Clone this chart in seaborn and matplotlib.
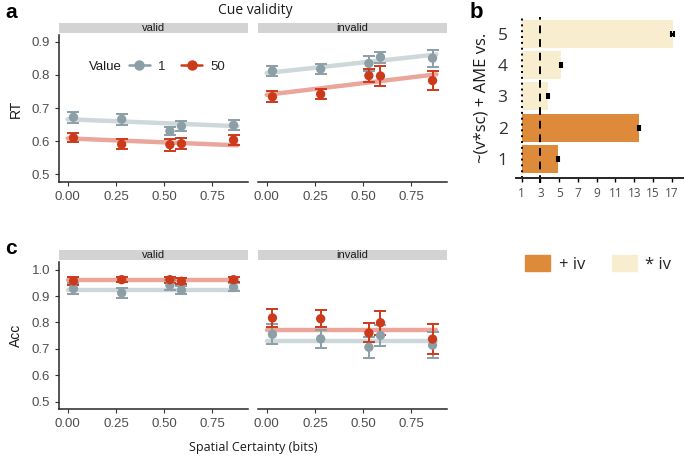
import numpy as np
import pandas as pd
import matplotlib
matplotlib.use("Agg")
import matplotlib.pyplot as plt
import seaborn as sns
from matplotlib.lines import Line2D
from matplotlib.patches import Patch, Rectangle

# spatial certainty levels (bits)
sc_bits = [0.03, 0.28, 0.53, 0.59, 0.86]
fit_x = [0.0, 0.88]

# RT means and errors
rt_valid_v1 = [0.672, 0.666, 0.630, 0.645, 0.648]
rt_valid_v1_se = [0.017, 0.017, 0.011, 0.016, 0.015]
rt_valid_v50 = [0.610, 0.590, 0.589, 0.592, 0.603]
rt_valid_v50_se = [0.013, 0.015, 0.018, 0.017, 0.015]
rt_invalid_v1 = [0.812, 0.818, 0.835, 0.854, 0.851]
rt_invalid_v1_se = [0.016, 0.016, 0.022, 0.017, 0.026]
rt_invalid_v50 = [0.734, 0.742, 0.798, 0.797, 0.783]
rt_invalid_v50_se = [0.016, 0.015, 0.019, 0.031, 0.030]

# model fit lines for RT (values at fit_x)
rt_fit_valid_v1 = [0.666, 0.645]
rt_fit_valid_v50 = [0.608, 0.587]
rt_fit_invalid_v1 = [0.806, 0.862]
rt_fit_invalid_v50 = [0.740, 0.802]

# Accuracy means and errors
acc_valid_v1 = [0.928, 0.912, 0.941, 0.922, 0.934]
acc_valid_v1_se = [0.022, 0.019, 0.018, 0.015, 0.015]
acc_valid_v50 = [0.957, 0.962, 0.962, 0.956, 0.962]
acc_valid_v50_se = [0.014, 0.009, 0.011, 0.012, 0.010]
acc_invalid_v1 = [0.755, 0.738, 0.706, 0.751, 0.714]
acc_invalid_v1_se = [0.038, 0.034, 0.039, 0.040, 0.050]
acc_invalid_v50 = [0.817, 0.814, 0.760, 0.799, 0.737]
acc_invalid_v50_se = [0.033, 0.033, 0.036, 0.045, 0.057]

acc_fit_valid_v1 = [0.924, 0.924]
acc_fit_valid_v50 = [0.960, 0.960]
acc_fit_invalid_v1 = [0.729, 0.729]
acc_fit_invalid_v50 = [0.771, 0.771]

# panel b: model comparison
model_rank = [1, 2, 3, 4, 5]
model_ratio = [4.85, 13.5, 3.8, 5.2, 17.1]
model_ratio_err = [0.1, 0.12, 0.08, 0.1, 0.15]
model_type = ["+ iv", "+ iv", "* iv", "* iv", "* iv"]

value_labels = ["1", "50"]
pt_colors = {"1": "#8C9FA6", "50": "#CC3A1C"}
line_colors = {"1": "#C9D4D7", "50": "#E99C90"}
bar_colors = {"+ iv": "#DE8A3B", "* iv": "#F8EDCF"}

sns.set_theme(style="ticks")
plt.rcParams["font.family"] = ["Liberation Sans", "DejaVu Sans"]

W, H = 685, 458
fig = plt.figure(figsize=(W / 100, H / 100), dpi=100)


def px_axes(left, top, right, bottom):
    return fig.add_axes([left / W, 1 - bottom / H, (right - left) / W, (bottom - top) / H])


def add_strip(ax, label):
    ax.add_patch(Rectangle((0, 1.012), 1, 0.068, transform=ax.transAxes,
                           clip_on=False, facecolor="#D3D3D3", edgecolor="none"))
    ax.text(0.5, 1.046, label, transform=ax.transAxes, ha="center", va="center",
            fontsize=8, color="#1A1A1A")


def draw_facet(ax, means, ses, fits, label, ylim, yticks, show_y, ylabel):
    for v in value_labels:
        fit_df = pd.DataFrame({"x": fit_x, "y": fits[v]})
        sns.lineplot(data=fit_df, x="x", y="y", ax=ax, color=line_colors[v],
                     lw=3.2, alpha=0.9, zorder=1)
    for v in value_labels:
        ax.errorbar(sc_bits, means[v], yerr=ses[v], fmt="none", ecolor=pt_colors[v],
                    elinewidth=1.4, capsize=4, capthick=1.4, zorder=2)
        pt_df = pd.DataFrame({"x": sc_bits, "y": means[v]})
        sns.scatterplot(data=pt_df, x="x", y="y", ax=ax, color=pt_colors[v], s=45,
                        edgecolor="none", zorder=3)
    ax.set_xlim(-0.045, 0.935)
    ax.set_ylim(*ylim)
    ax.set_xticks([0, 0.25, 0.5, 0.75])
    ax.set_xticklabels(["0.00", "0.25", "0.50", "0.75"])
    ax.set_yticks(yticks)
    ax.tick_params(labelsize=9.5, colors="#333333", length=3, width=0.8, labelcolor="#4D4D4D")
    ax.set_xlabel("")
    sns.despine(ax=ax)
    ax.spines["bottom"].set_linewidth(1.1)
    ax.spines["left"].set_linewidth(1.1)
    if show_y:
        ax.set_ylabel(ylabel, fontsize=10, color="#1A1A1A", labelpad=6)
        ax.set_yticklabels([f"{t:.1f}" for t in yticks])
    else:
        ax.set_ylabel("")
        ax.spines["left"].set_visible(False)
        ax.tick_params(axis="y", left=False, labelleft=False)
    add_strip(ax, label)


# panel a: RT
ax_a1 = px_axes(59, 35, 248, 182)
ax_a2 = px_axes(258, 35, 447, 182)
rt_ylim = (0.476, 0.921)
rt_ticks = [0.5, 0.6, 0.7, 0.8, 0.9]
draw_facet(ax_a1, {"1": rt_valid_v1, "50": rt_valid_v50},
           {"1": rt_valid_v1_se, "50": rt_valid_v50_se},
           {"1": rt_fit_valid_v1, "50": rt_fit_valid_v50},
           "valid", rt_ylim, rt_ticks, True, "RT")
draw_facet(ax_a2, {"1": rt_invalid_v1, "50": rt_invalid_v50},
           {"1": rt_invalid_v1_se, "50": rt_invalid_v50_se},
           {"1": rt_fit_invalid_v1, "50": rt_fit_invalid_v50},
           "invalid", rt_ylim, rt_ticks, False, "")

# Value legend inside the valid RT panel
ax_a1.text(0.16, 0.785, "Value", transform=ax_a1.transAxes, ha="left", va="center",
           fontsize=9.5, color="#1A1A1A")
handles = [Line2D([], [], color=pt_colors[v], marker="o", markersize=6.5, lw=1.8)
           for v in value_labels]
ax_a1.legend(handles, value_labels, loc="center left", bbox_to_anchor=(0.37, 0.785),
             ncol=2, frameon=False, fontsize=9.5, handlelength=1.6, handletextpad=0.6,
             columnspacing=1.2, borderpad=0, borderaxespad=0)

# panel c: Accuracy
ax_c1 = px_axes(59, 262, 248, 409)
ax_c2 = px_axes(258, 262, 447, 409)
acc_ylim = (0.472, 1.029)
acc_ticks = [0.5, 0.6, 0.7, 0.8, 0.9, 1.0]
draw_facet(ax_c1, {"1": acc_valid_v1, "50": acc_valid_v50},
           {"1": acc_valid_v1_se, "50": acc_valid_v50_se},
           {"1": acc_fit_valid_v1, "50": acc_fit_valid_v50},
           "valid", acc_ylim, acc_ticks, True, "Acc")
draw_facet(ax_c2, {"1": acc_invalid_v1, "50": acc_invalid_v50},
           {"1": acc_invalid_v1_se, "50": acc_invalid_v50_se},
           {"1": acc_fit_invalid_v1, "50": acc_fit_invalid_v50},
           "invalid", acc_ylim, acc_ticks, False, "")

# panel b: model comparison bars (start at 1)
ax_b = px_axes(516, 17, 683, 178)
b_font = ["Open Sans", "DejaVu Sans"]
for r, val, t in zip(model_rank, model_ratio, model_type):
    ax_b.barh(r, val - 1, left=1, height=0.9, color=bar_colors[t], edgecolor="none", zorder=1)
ax_b.errorbar(model_ratio, model_rank, xerr=model_ratio_err, fmt="none", ecolor="black",
              elinewidth=2.2, capsize=2.5, capthick=1.5, zorder=3)
ax_b.axvline(1, color="black", lw=1.4, ls=(0, (1, 2)), zorder=2)
ax_b.axvline(3, ymin=-0.03, ymax=1, color="black", lw=1.4, ls=(0, (4, 3)), zorder=2,
             clip_on=False)
ax_b.set_xlim(0.4, 18.2)
ax_b.set_ylim(0.38, 5.55)
ax_b.set_xticks(list(range(1, 18, 2)))
ax_b.set_yticks(model_rank)
ax_b.tick_params(axis="x", labelsize=8.5, length=3, width=1.0, colors="black",
                 labelcolor="#4D4D4D")
ax_b.tick_params(axis="y", left=False, length=0, labelsize=12.5, labelcolor="#333333", pad=6)
for lab in ax_b.get_xticklabels() + ax_b.get_yticklabels():
    lab.set_family(b_font)
sns.despine(ax=ax_b, left=True)
ax_b.spines["bottom"].set_linewidth(1.4)
ax_b.set_ylabel("~(v*sc) + AME vs.", fontsize=12, family=b_font, color="#1A1A1A",
                labelpad=6)

fig.legend([Patch(color=bar_colors[t]) for t in ["+ iv", "* iv"]], ["+ iv", "* iv"],
           loc="center", bbox_to_anchor=(598 / W, 1 - 264 / H), ncol=2, frameon=False,
           prop={"family": b_font, "size": 12}, handlelength=1.5, handleheight=1.1,
           handletextpad=0.5, columnspacing=1.6)

# titles and panel letters
fig.text(255 / W, 1 - 10 / H, "Cue validity", ha="center", va="center", fontsize=10,
         family=b_font, color="#1A1A1A")
fig.text(253 / W, 1 - 448 / H, "Spatial Certainty (bits)", ha="center", va="center",
         fontsize=9, family=b_font, color="#1A1A1A")
for letter, x, y, fs in [("a", 5, 13, 15), ("b", 470, 13, 16), ("c", 5, 248, 15)]:
    fig.text(x / W, 1 - y / H, letter, ha="left", va="center", fontsize=fs,
             fontweight="bold", color="black")

fig.savefig("out.png", dpi=100)
